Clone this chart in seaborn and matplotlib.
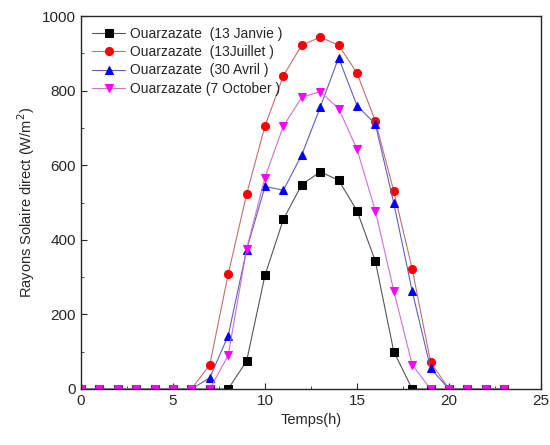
import matplotlib.pyplot as plt
import seaborn as sns
import pandas as pd

hours = list(range(24))
janvier = [0, 0, 0, 0, 0, 0, 0, 0, 0, 75, 305, 455, 548, 582, 560, 478, 342, 100, 0, 0, 0, 0, 0, 0]
juillet = [0, 0, 0, 0, 0, 0, 0, 65, 308, 522, 705, 840, 922, 943, 922, 847, 718, 530, 322, 72, 0, 0, 0, 0]
avril = [0, 0, 0, 0, 0, 0, 0, 30, 143, 373, 543, 533, 628, 755, 888, 760, 710, 498, 262, 55, 0, 0, 0, 0]
octobre = [0, 0, 0, 0, 0, 0, 0, 0, 90, 375, 567, 705, 782, 797, 752, 643, 477, 263, 65, 0, 0, 0, 0, 0]

labels = ["Ouarzazate  (13 Janvie )", "Ouarzazate  (13Juillet )",
          "Ouarzazate  (30 Avril )", "Ouarzazate (7 October )"]
colors = ["black", "red", "blue", "magenta"]
line_colors = ["#555555", "#c07070", "#6060c0", "#d070d0"]
markers = ["s", "o", "^", "v"]

sns.set_style("ticks")
plt.rcParams['font.family'] = ['Liberation Sans', 'DejaVu Sans']

fig = plt.figure(figsize=(5.5, 4.45), dpi=100)
ax = fig.add_axes([81 / 550, 1 - 389 / 445, 460 / 550, 373 / 445])

for vals, lab, col, lc, mk in zip([janvier, juillet, avril, octobre], labels, colors, line_colors, markers):
    df = pd.DataFrame({'Temps': hours, 'Rayons': vals})
    line = sns.lineplot(data=df, x='Temps', y='Rayons', ax=ax, color=lc, marker=mk,
                        markersize=5.8, markerfacecolor=col, markeredgecolor=col,
                        linewidth=0.8, label=lab)

ax.set_xlim(0, 25)
ax.set_ylim(0, 1000)
ax.set_xticks(range(0, 26, 5))
ax.set_xticks([2.5, 7.5, 12.5, 17.5, 22.5], minor=True)
ax.set_yticks(range(0, 1001, 200))
ax.set_yticks(range(100, 1000, 200), minor=True)
ax.tick_params(direction='in', length=4, labelsize=11)
ax.tick_params(which='minor', direction='in', length=2.5)
ax.set_xlabel('Temps(h)', fontsize=10.5)
ax.set_ylabel('Rayons Solaire direct (W/m$^2$)', fontsize=10.5)
for s in ax.spines.values():
    s.set_linewidth(1.0)

ax.legend(loc='upper left', frameon=False, fontsize=10, handlelength=2.4,
          borderaxespad=0.4, labelspacing=0.3, handletextpad=0.3)

fig.savefig('out.png', dpi=100)
